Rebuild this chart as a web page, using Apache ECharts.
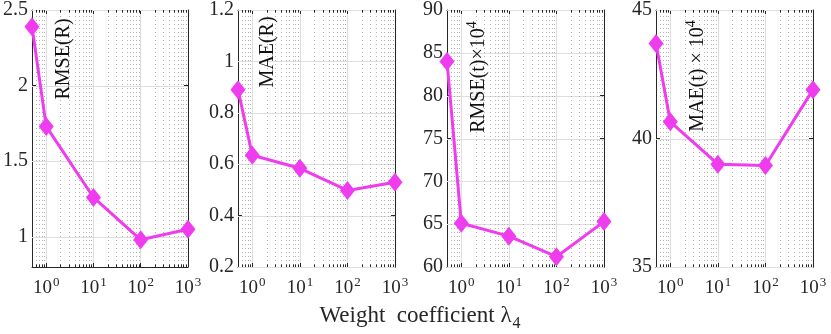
<!DOCTYPE html>
<html>
<head>
<meta charset="utf-8">
<script src="https://cdn.jsdelivr.net/npm/echarts@6/dist/echarts.min.js"></script>
<style>html,body{margin:0;padding:0;background:#fff;}#c{width:831px;height:334px;}</style>
</head>
<body>
<div id="c"></div>
<script>
// ---- data ----
const lambdas = [0.5, 1, 10, 100, 1000];
const rmseR = [2.39, 1.73, 1.26, 0.98, 1.05];
const maeR = [0.89, 0.635, 0.584, 0.498, 0.53];
const rmseT = [84.0, 65.1, 63.6, 61.2, 65.3];
const maeT = [43.7, 40.65, 39.0, 38.95, 41.9];
const xTickLabels = ['10^0', '10^1', '10^2', '10^3'];
const panelNames = ['RMSE(R)', 'MAE(R)', 'RMSE(t)×10^4', 'MAE(t) × 10^4'];
const yMins = [0.8, 0.2, 60, 35];
const yMaxs = [2.5, 1.2, 90, 45];
const yTicks = [[1, 1.5, 2, 2.5], [0.2, 0.4, 0.6, 0.8, 1, 1.2], [60, 65, 70, 75, 80, 85, 90], [35, 40, 45]];
const seriesList = [rmseR, maeR, rmseT, maeT];

const minorX = [];
[0.1, 1, 10, 100].forEach(d => { for (let k = 2; k <= 9; k++) { const v = +(k * d).toPrecision(3); if (v > 0.5 && v < 1000) minorX.push(v); } });

const lefts = [31, 238, 447, 656];
const W = 157, TOP = 8, H = 259;
const axisColor = '#262626';
const serif = 'Liberation Serif';
const magenta = '#ef3cef';

const grids = [], xAxes = [], yAxes = [], series = [], graphics = [];
const labelRich = {
  b: {fontFamily: serif, fontSize: 19, color: axisColor, verticalAlign: 'bottom', lineHeight: 22},
  s: {fontFamily: serif, fontSize: 13, color: axisColor, verticalAlign: 'top', lineHeight: 22, padding:[0,0,0,1]}
};
function fmtPow(v) {
  const e = Math.round(Math.log10(v));
  if (Math.abs(Math.pow(10, e) - v) > 1e-9) return '';
  const s = xTickLabels.find(t => t === '10^' + e);
  if (!s) return '';
  return '{b|10}{s|' + e + '}';
}

for (let i = 0; i < 4; i++) {
  grids.push({left: lefts[i], top: TOP, width: W, height: H, containLabel: false});
  xAxes.push({
    type: 'log', logBase: 10, gridIndex: i, min: 0.5, max: 1000, position: 'bottom',
    axisLine: {show: true, lineStyle: {color: axisColor, width: 1}},
    axisTick: {show: true, inside: true, length: 4, lineStyle: {color: axisColor}},
    axisLabel: {show: true, margin: 9, formatter: fmtPow, rich: labelRich, showMinLabel: true, showMaxLabel: true, hideOverlap: false},
    splitLine: {show: true, lineStyle: {color: '#dedede', width: 1}},
    minorTick: {show: false}
  });
  xAxes.push({
    type: 'log', logBase: 10, gridIndex: i, min: 0.5, max: 1000, position: 'top',
    axisLine: {show: true, lineStyle: {color: axisColor, width: 1}},
    axisTick: {show: true, inside: true, length: 4, lineStyle: {color: axisColor}},
    axisLabel: {show: false}, splitLine: {show: false}
  });
  const yCommon = {
    type: 'value', gridIndex: i, min: yMins[i], max: yMaxs[i],
    axisLine: {show: true, lineStyle: {color: axisColor, width: 1}},
  };
  const tickVals = yTicks[i];
  yAxes.push(Object.assign({}, yCommon, {
    position: 'left',
    axisTick: {show: true, inside: true, length: 4, lineStyle: {color: axisColor}, customValues: tickVals},
    axisLabel: {show: true, margin: 4, fontFamily: serif, fontSize: 20, color: axisColor, customValues: tickVals,
      formatter: v => String(+v.toFixed(2))},
    splitLine: {show: false}
  }));
  yAxes.push(Object.assign({}, yCommon, {
    position: 'right',
    axisTick: {show: true, inside: true, length: 4, lineStyle: {color: axisColor}, customValues: tickVals},
    axisLabel: {show: false}, splitLine: {show: false}
  }));

  const yi = i * 2, xi = i * 2;
  series.push({
    type: 'custom', xAxisIndex: xi, yAxisIndex: yi, silent: true, z: 1,
    data: tickVals.map(v => [v]),
    renderItem: (params, api) => {
      const v = api.value(0);
      const p1 = api.coord([0.5, v]), p2 = api.coord([1000, v]);
      const y = Math.round(p1[1]) + 0.5;
      return {type: 'line', shape: {x1: p1[0], y1: y, x2: p2[0], y2: y},
        style: {stroke: '#dedede', lineWidth: 1}};
    }
  });
  const yMin = yMins[i], yMax = yMaxs[i];
  series.push({
    type: 'custom', xAxisIndex: xi, yAxisIndex: yi, silent: true, z: 1,
    data: minorX.map(v => [v]),
    renderItem: (params, api) => {
      const v = api.value(0);
      const b = api.coord([v, yMin]), t = api.coord([v, yMax]);
      const x = Math.round(b[0]) + 0.5;
      return {type: 'group', children: [
        {type: 'line', shape: {x1: x, y1: t[1] + 2, x2: x, y2: b[1] - 2},
          style: {stroke: '#b2b2b2', lineWidth: 1, lineDash: [1, 3]}},
        {type: 'line', shape: {x1: x, y1: b[1], x2: x, y2: b[1] - 2.5}, style: {stroke: axisColor, lineWidth: 1}},
        {type: 'line', shape: {x1: x, y1: t[1], x2: x, y2: t[1] + 2.5}, style: {stroke: axisColor, lineWidth: 1}}
      ]};
    }
  });
  series.push({
    type: 'line', xAxisIndex: xi, yAxisIndex: yi, z: 5,
    data: lambdas.map((x, k) => [x, seriesList[i][k]]),
    symbol: 'diamond', symbolSize: [15, 19],
    lineStyle: {color: magenta, width: 3},
    itemStyle: {color: magenta},
    animation: false
  });
}

const nameY = [59, 52, 77, 76];
const nameX = [62, 266, 477, 696];
panelNames.forEach((n, i) => {
  const parts = n.split('^');
  const text = parts.length > 1 ? '{b|' + parts[0] + '}{s|' + parts[1] + '}' : '{b|' + n + '}';
  graphics.push({
    type: 'text', x: nameX[i], y: nameY[i], rotation: Math.PI / 2, z: 10,
    style: {
      text: text, align: 'center', verticalAlign: 'middle',
      fontFamily: serif, fontSize: 20, fill: '#111',
      rich: {
        b: {fontFamily: serif, fontSize: 20, fill: '#111', verticalAlign: 'bottom', lineHeight: 24},
        s: {fontFamily: serif, fontSize: 14, fill: '#111', verticalAlign: 'top', lineHeight: 24}
      }
    }
  });
});
graphics.push({
  type: 'text', x: 420, y: 318, z: 10,
  style: {
    text: '{b|Weight  coefficient λ}{s|4}', align: 'center', verticalAlign: 'middle',
    fontFamily: serif, fontSize: 23, fill: '#262626',
    rich: {
      b: {fontFamily: serif, fontSize: 23, fill: '#262626', verticalAlign: 'top', lineHeight: 28},
      s: {fontFamily: serif, fontSize: 16, fill: '#262626', verticalAlign: 'bottom', lineHeight: 28, padding: [0,0,0,1]}
    }
  }
});

const chart = echarts.init(document.getElementById('c'), null, {renderer: 'canvas'});
chart.setOption({
  animation: false,
  backgroundColor: '#ffffff',
  grid: grids, xAxis: xAxes, yAxis: yAxes, series: series, graphic: graphics
});
</script>
</body>
</html>
